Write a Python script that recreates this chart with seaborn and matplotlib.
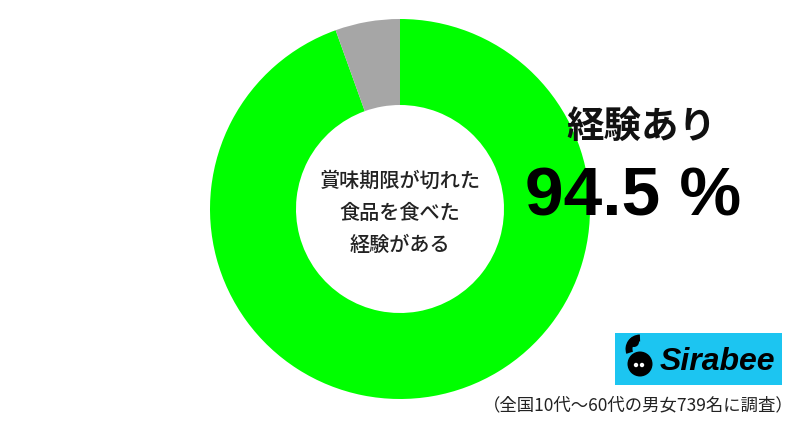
import numpy as np
import matplotlib
matplotlib.use("Agg")
import matplotlib.pyplot as plt
import matplotlib.patches as mpatches
import seaborn as sns

# --- data ---
labels = ["経験あり", "経験なし"]
values = [94.5, 5.5]
colors = ["#00FF00", "#A6A6A6"]
center_text = "賞味期限が切れた\n食品を食べた\n経験がある"
highlight_label = "経験あり"
highlight_value = "94.5 %"
footnote = "（全国10代～60代の男女739名に調査）"

sns.set_theme(style="white")
plt.rcParams['font.family'] = ['Noto Sans CJK JP', 'DejaVu Sans']

W, H = 799, 431
fig = plt.figure(figsize=(W / 100, H / 100), dpi=100)
ax = fig.add_axes([0, 0, 1, 1])
ax.set_xlim(0, W)
ax.set_ylim(0, H)
ax.set_aspect('equal')
ax.axis('off')

# donut
ax.pie(values, colors=colors, startangle=90, counterclock=False,
       center=(400, H - 210), radius=190,
       wedgeprops=dict(width=190 - 104, linewidth=0))
ax.set_xlim(0, W)
ax.set_ylim(0, H)

ax.text(400, H - 213, center_text, ha='center', va='center', fontsize=14.5,
        fontweight='medium', color='#222222', linespacing=1.85)

# highlighted value
ax.text(641, H - 126, highlight_label, ha='center', va='center', fontsize=27,
        fontweight='bold', color='#111111')
ax.text(633, H - 198, highlight_value, ha='center', va='center', fontsize=50,
        fontweight='bold', color='#000000', family=['Liberation Sans', 'DejaVu Sans'])

# logo
ax.add_patch(mpatches.Rectangle((615, H - 386), 167, 52, color='#1CC5F1', lw=0))
ax.add_patch(mpatches.Circle((640, H - 365), 12.5, color='black', lw=0))
ax.add_patch(mpatches.Circle((634, H - 343), 5, color='black', lw=0))
ax.add_patch(mpatches.Arc((640, H - 350), 22, 22, theta1=90, theta2=200, color='black', lw=5))
ax.add_patch(mpatches.Circle((636, H - 366), 2.2, color='white', lw=0))
ax.add_patch(mpatches.Circle((642, H - 366), 2.2, color='white', lw=0))
ax.text(717, H - 362, "Sirabee", ha='center', va='center', fontsize=23,
        fontweight='bold', fontstyle='italic', color='black',
        family=['Liberation Sans', 'DejaVu Sans'])

ax.text(638, H - 405, footnote, ha='center', va='center', fontsize=12.5, color='#222222')

fig.savefig("out.png", dpi=100)
